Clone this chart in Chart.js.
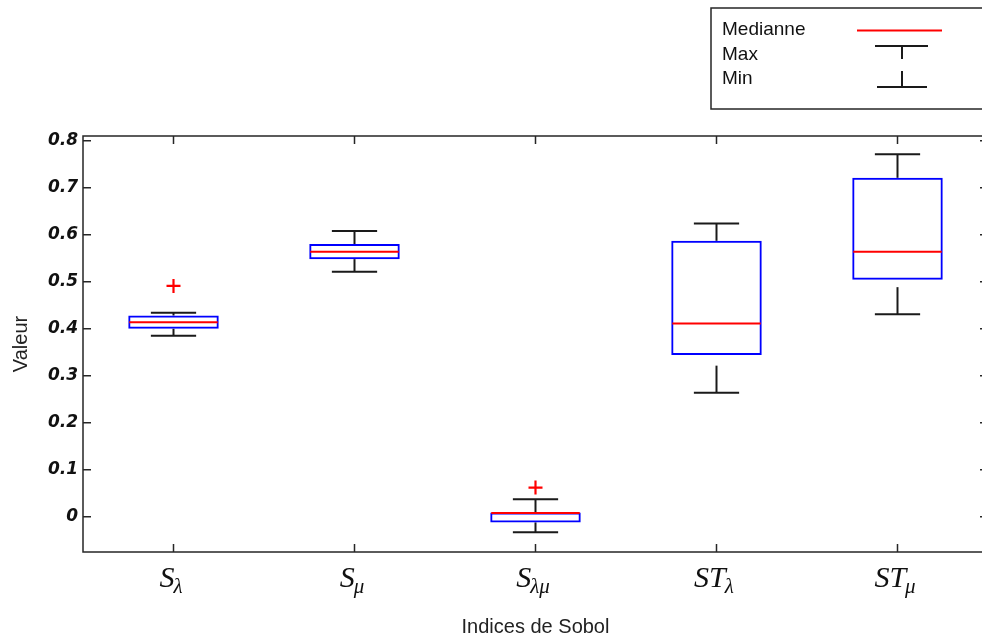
<!DOCTYPE html>
<html>
<head>
<meta charset="utf-8">
<script src="https://cdn.jsdelivr.net/npm/chart.js@4.4.1/dist/chart.umd.min.js"></script>
<style>
  html, body { margin: 0; padding: 0; background: #fff; overflow: hidden; }
  #wrap { width: 982px; height: 643px; overflow: hidden; position: relative; }
  #box { width: 1000px; height: 643px; position: absolute; left: 0; top: 0; }
</style>
</head>
<body>
<div id="wrap"><div id="box"><canvas id="sobolChart"></canvas></div></div>
<script>
// ===== data =====
const categories = ['Sλ', 'Sμ', 'Sλμ', 'STλ', 'STμ'];
const labelMain = ['S', 'S', 'S', 'ST', 'ST'];
const labelSub = ['λ', 'μ', 'λμ', 'λ', 'μ'];

const q1Values = [0.400, 0.548, -0.012, 0.344, 0.504];
const q3Values = [0.428, 0.580, 0.009, 0.587, 0.721];
const medianValues = [0.414, 0.564, 0.008, 0.411, 0.564];
const maxValues = [0.434, 0.608, 0.037, 0.624, 0.771];
const minValues = [0.385, 0.521, -0.033, 0.264, 0.431];
const outlierValues = [0.491, null, 0.062, null, null];

const yTicks = [0, 0.1, 0.2, 0.3, 0.4, 0.5, 0.6, 0.7, 0.8];

const legendLabels = ['Medianne', 'Max', 'Min'];

// ===== box plot drawing (whiskers, medians, frame, labels, legend) =====
const boxPlotPlugin = {
    id: 'boxPlot',
    beforeDatasetsDraw(chart) {
        const ctx = chart.ctx;
        const y = chart.scales.y;
        const bars = chart.getDatasetMeta(0).data;
        ctx.save();
        ctx.strokeStyle = '#1a1a1a';
        ctx.lineWidth = 2;
        bars.forEach((bar, i) => {
            const cx = bar.x;
            const half = bar.width / 4;
            const yMax = y.getPixelForValue(maxValues[i]);
            const yMin = y.getPixelForValue(minValues[i]);
            const yQ1 = y.getPixelForValue(q1Values[i]);
            const yQ3 = y.getPixelForValue(q3Values[i]);
            // whiskers are dashed, dash starts at the cap
            ctx.setLineDash([27, 11]);
            ctx.beginPath();
            ctx.moveTo(cx, yMax); ctx.lineTo(cx, yQ3);
            ctx.stroke();
            ctx.beginPath();
            ctx.moveTo(cx, yMin); ctx.lineTo(cx, yQ1);
            ctx.stroke();
            ctx.setLineDash([]);
            ctx.beginPath();
            ctx.moveTo(cx - half, yMax); ctx.lineTo(cx + half, yMax);
            ctx.moveTo(cx - half, yMin); ctx.lineTo(cx + half, yMin);
            ctx.stroke();
        });
        ctx.restore();
    },
    afterDatasetsDraw(chart) {
        const ctx = chart.ctx;
        const y = chart.scales.y;
        const bars = chart.getDatasetMeta(0).data;
        ctx.save();
        ctx.strokeStyle = '#ff0000';
        ctx.lineWidth = 2;
        bars.forEach((bar, i) => {
            const ym = y.getPixelForValue(medianValues[i]);
            ctx.beginPath();
            ctx.moveTo(bar.x - bar.width / 2 + 1, ym);
            ctx.lineTo(bar.x + bar.width / 2 - 1, ym);
            ctx.stroke();
        });
        ctx.restore();
    },
    afterDraw(chart) {
        const ctx = chart.ctx;
        const a = chart.chartArea;
        const x = chart.scales.x, y = chart.scales.y;
        const tick = 8;
        ctx.save();
        // frame
        ctx.strokeStyle = '#262626';
        ctx.lineWidth = 1.5;
        ctx.strokeRect(a.left, a.top, a.right - a.left, a.bottom - a.top);
        ctx.beginPath();
        yTicks.forEach(v => {
            const py = y.getPixelForValue(v);
            ctx.moveTo(a.left, py); ctx.lineTo(a.left + tick, py);
            ctx.moveTo(a.right, py); ctx.lineTo(a.right - tick, py);
        });
        categories.forEach((c, i) => {
            const px = x.getPixelForValue(i);
            ctx.moveTo(px, a.bottom); ctx.lineTo(px, a.bottom - tick);
            ctx.moveTo(px, a.top); ctx.lineTo(px, a.top + tick);
        });
        ctx.stroke();

        // x tick labels with subscripts
        ctx.fillStyle = '#111';
        ctx.textBaseline = 'alphabetic';
        ctx.textAlign = 'left';
        const mainFont = 'italic 30px "Liberation Serif"';
        const subFont = 'italic 21px "Liberation Serif"';
        categories.forEach((c, i) => {
            const px = x.getPixelForValue(i);
            ctx.font = mainFont;
            const wMain = ctx.measureText(labelMain[i]).width;
            ctx.font = subFont;
            const wSub = ctx.measureText(labelSub[i]).width;
            const start = px - (wMain + wSub) / 2 - 2;
            ctx.font = mainFont;
            ctx.fillText(labelMain[i], start, a.bottom + 35);
            ctx.font = subFont;
            ctx.fillText(labelSub[i], start + wMain - 1, a.bottom + 41);
        });

        // legend box
        const lx = a.left + 628, ly = a.top - 128;
        ctx.fillStyle = '#fff';
        ctx.strokeStyle = '#262626';
        ctx.lineWidth = 1.5;
        ctx.fillRect(lx, ly, 290, 101);
        ctx.strokeRect(lx, ly, 290, 101);
        ctx.fillStyle = '#111';
        ctx.font = '19px "Liberation Sans"';
        ctx.textBaseline = 'middle';
        legendLabels.forEach((t, i) => {
            ctx.fillText(t, lx + 11, ly + 22 + i * 24.5);
        });
        ctx.lineWidth = 2;
        ctx.strokeStyle = '#ff0000';
        ctx.beginPath();
        ctx.moveTo(lx + 146, ly + 22.5); ctx.lineTo(lx + 231, ly + 22.5);
        ctx.stroke();
        ctx.strokeStyle = '#1a1a1a';
        ctx.beginPath();
        ctx.moveTo(lx + 164, ly + 38); ctx.lineTo(lx + 217, ly + 38);
        ctx.moveTo(lx + 191, ly + 38); ctx.lineTo(lx + 191, ly + 51);
        ctx.moveTo(lx + 191, ly + 63); ctx.lineTo(lx + 191, ly + 79);
        ctx.moveTo(lx + 166, ly + 79); ctx.lineTo(lx + 216, ly + 79);
        ctx.stroke();
        ctx.restore();
    }
};

new Chart(document.getElementById('sobolChart'), {
    data: {
        labels: categories,
        datasets: [{
            type: 'bar',
            label: 'Boîte',
            data: q1Values.map((v, i) => [v, q3Values[i]]),
            backgroundColor: 'rgba(255,255,255,0)',
            borderColor: '#0000ff',
            borderWidth: 2,
            borderSkipped: false,
            categoryPercentage: 1,
            barPercentage: 0.5
        }, {
            type: 'line',
            label: 'Outliers',
            data: outlierValues,
            showLine: false,
            pointStyle: 'cross',
            pointRadius: 7,
            pointBorderWidth: 2.2,
            borderColor: '#ff0000',
            backgroundColor: '#ff0000'
        }]
    },
    options: {
        responsive: true,
        maintainAspectRatio: false,
        animation: false,
        layout: { padding: { top: 136, right: 12, left: 0, bottom: 0 } },
        plugins: { legend: { display: false }, tooltip: { enabled: false } },
        scales: {
            x: {
                grid: { display: false },
                border: { display: false },
                ticks: { display: false },
                title: {
                    display: true, text: 'Indices de Sobol', color: '#222',
                    font: { family: 'Liberation Sans', size: 20 },
                    padding: { top: 0, bottom: 4 }
                },
                afterFit: s => { s.height = 91; }
            },
            y: {
                min: -0.075,
                max: 0.81,
                grid: { display: false, drawTicks: false },
                border: { display: false },
                afterBuildTicks: s => { s.ticks = yTicks.map(v => ({ value: v })); },
                ticks: {
                    color: '#111',
                    padding: 5,
                    font: { family: 'DejaVu Sans', size: 17, weight: 'bold', style: 'italic' },
                    callback: v => String(Math.round(v * 10) / 10)
                },
                title: {
                    display: true, text: 'Valeur', color: '#222',
                    font: { family: 'Liberation Sans', size: 20 },
                    padding: { top: 9, bottom: 0 }
                },
                afterFit: s => { s.width = 83; }
            }
        }
    },
    plugins: [boxPlotPlugin]
});
</script>
</body>
</html>
